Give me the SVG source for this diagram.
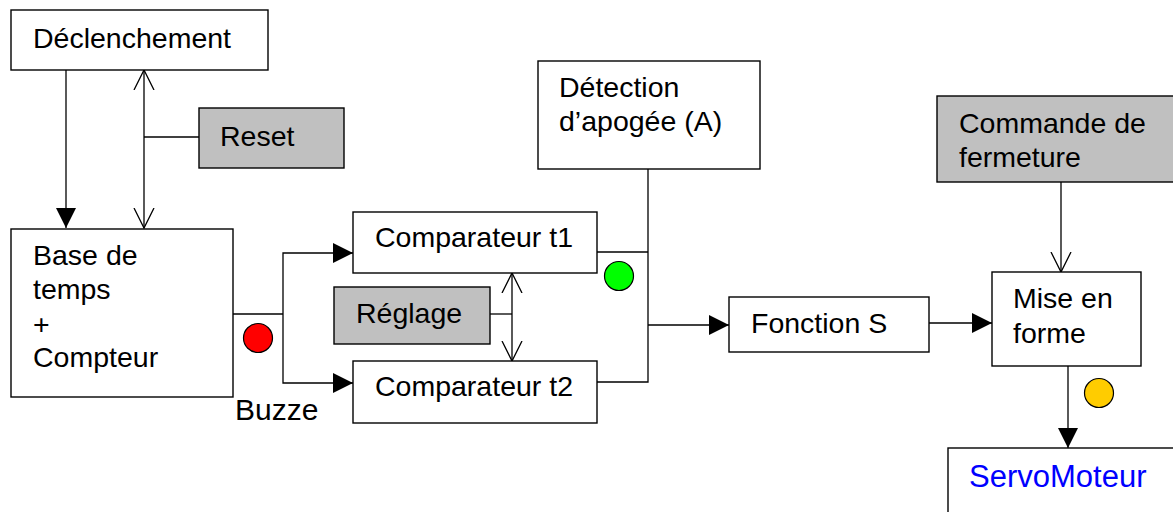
<svg xmlns="http://www.w3.org/2000/svg" width="1173" height="512" viewBox="0 0 1173 512">
<style>
.box{fill:#fff;stroke:#000;stroke-width:1.4}
.gray{fill:#c0c0c0;stroke:#000;stroke-width:1.4}
.t{font-family:"Liberation Sans",Arial,sans-serif;font-size:28.5px;fill:#000}
.ln{fill:none;stroke:#000;stroke-width:1.3}
.fa{marker-end:url(#fill)}
.oa{marker-end:url(#open)}
.ob{marker-start:url(#openS);marker-end:url(#open)}
</style>
<defs>
<marker id="fill" viewBox="0 0 20 20" refX="20" refY="10" markerWidth="20" markerHeight="20" markerUnits="userSpaceOnUse" orient="auto">
<path d="M0,0 L20,10 L0,20 Z" fill="#000"/>
</marker>
<marker id="open" viewBox="0 0 22 22" refX="20" refY="11" markerWidth="22" markerHeight="22" markerUnits="userSpaceOnUse" orient="auto">
<path d="M0,1 L20,11 L0,21" fill="none" stroke="#000" stroke-width="1.3"/>
</marker>
<marker id="openS" viewBox="0 0 22 22" refX="2" refY="11" markerWidth="22" markerHeight="22" markerUnits="userSpaceOnUse" orient="auto">
<path d="M22,1 L2,11 L22,21" fill="none" stroke="#000" stroke-width="1.3"/>
</marker>
</defs>
<g id="connectors">
<line class="ln fa" x1="66" y1="70" x2="66" y2="228"/>
<line class="ln ob" x1="144" y1="70" x2="144" y2="228"/>
<line class="ln" x1="144" y1="137" x2="199" y2="137"/>
<polyline class="ln" points="233,314 283,314"/>
<polyline class="ln fa" points="283,314 283,253 353,253"/>
<polyline class="ln fa" points="283,314 283,383 353,383"/>
<line class="ln" x1="490" y1="314" x2="512" y2="314"/>
<line class="ln ob" x1="512" y1="273" x2="512" y2="361"/>
<polyline class="ln" points="597,252 648,252"/>
<polyline class="ln" points="597,382 648,382 648,169"/>
<line class="ln fa" x1="648" y1="325" x2="729" y2="325"/>
<line class="ln fa" x1="929" y1="323" x2="992" y2="323"/>
<line class="ln oa" x1="1061" y1="182" x2="1061" y2="272"/>
<line class="ln fa" x1="1068" y1="366" x2="1068" y2="448"/>
</g>
<g id="declenchement"><rect class="box" x="11" y="10" width="257" height="60"/><text class="t" x="33" y="48">Déclenchement</text></g>
<g id="reset"><rect class="gray" x="199" y="108" width="145" height="60"/><text class="t" x="220" y="146">Reset</text></g>
<g id="base"><rect class="box" x="11" y="229" width="222" height="168"/>
<text class="t" x="33" y="265">Base de</text><text class="t" x="33" y="299">temps</text><text class="t" x="33" y="334">+</text><text class="t" x="33" y="367">Compteur</text></g>
<g id="comp1"><rect class="box" x="353" y="212" width="244" height="61"/><text class="t" x="375" y="247">Comparateur t1</text></g>
<g id="reglage"><rect class="gray" x="334" y="287" width="156" height="57"/><text class="t" x="356" y="323">Réglage</text></g>
<g id="comp2"><rect class="box" x="353" y="361" width="244" height="62"/><text class="t" x="375" y="396">Comparateur t2</text></g>
<g id="buzze"><text class="t" x="235" y="420" style="font-size:30px">Buzze</text></g>
<g id="red-dot"><circle cx="258" cy="338" r="14.5" fill="#ff0000" stroke="#000" stroke-width="1.2"/></g>
<g id="green-dot"><circle cx="619" cy="276" r="14.5" fill="#00ff00" stroke="#000" stroke-width="1.2"/></g>
<g id="detection"><rect class="box" x="538" y="61" width="222" height="108"/><text class="t" x="559" y="97">Détection</text><text class="t" x="559" y="131">d’apogée (A)</text></g>
<g id="fonction"><rect class="box" x="729" y="297" width="200" height="55"/><text class="t" x="751" y="333">Fonction S</text></g>
<g id="commande"><rect class="gray" x="937" y="96" width="250" height="86"/><text class="t" x="959" y="133">Commande de</text><text class="t" x="959" y="167">fermeture</text></g>
<g id="mise"><rect class="box" x="992" y="272" width="149" height="94"/><text class="t" x="1013" y="308">Mise en</text><text class="t" x="1013" y="343">forme</text></g>
<g id="yellow-dot"><circle cx="1099" cy="393" r="14.5" fill="#ffcc00" stroke="#000" stroke-width="1.2"/></g>
<g id="servo"><rect class="box" x="948" y="448" width="240" height="80"/><text class="t" x="969" y="487" style="fill:#0000ff;font-size:31px">ServoMoteur</text></g>
</svg>
